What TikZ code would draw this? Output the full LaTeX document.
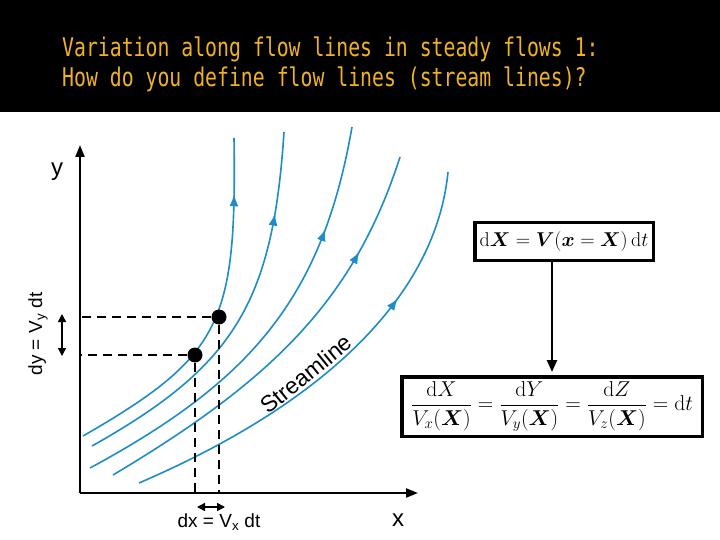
\RequirePackage{fix-cm}
\documentclass[tikz,border=0pt]{standalone}
\usepackage{amsmath,bm}
\usepackage{fontspec}
\setsansfont{Liberation Sans}
\newfontfamily\titlefont{DejaVu Sans Mono}
\usetikzlibrary{arrows.meta,decorations.markings}
\definecolor{titleorange}{RGB}{240,178,36}
\definecolor{sblue}{RGB}{30,140,200}
\tikzset{
  sline/.style={draw=sblue, color=sblue, line width=1.6pt, postaction={decorate},
    decoration={markings, mark=at position #1 with {\arrow{Latex[length=12pt,width=9pt]}}}},
  axisline/.style={line width=2.2pt, -{Triangle[length=12pt,width=9pt]}},
  dline/.style={line width=1.8pt, dash pattern=on 9pt off 6pt},
  dotnode/.style={circle, fill=black, inner sep=0pt, minimum size=15pt},
  eqbox/.style={draw, line width=3.5pt, inner sep=0pt, fill=white},
  lab/.style={font=\sffamily\fontsize{19}{22}\selectfont, inner sep=0pt},
  twoway/.style={line width=1.5pt, {Triangle[length=8pt,width=8pt]}-{Triangle[length=8pt,width=8pt]}},
  titletext/.style={text=titleorange, anchor=base west, inner sep=0pt, font=\titlefont\fontsize{19.8}{22}\selectfont}
}
\begin{document}
\begin{tikzpicture}[x=1pt,y=-1pt]
\useasboundingbox (0,0) rectangle (720,540);
\fill[white] (0,0) rectangle (720,540);
\fill[black] (0,0) rectangle (720,112);
\node[titletext] (t1) at (62,57) {\scalebox{1}[1.3]{Variation along flow lines in steady flows 1:}};
\node[titletext] (t2) at (62,87) {\scalebox{1}[1.3]{How do you define flow lines (stream lines)?}};

% streamlines
\draw[sline=0.845] (83,436) .. controls (222,356) and (236.7,323) .. (234,138);
\draw[sline=0.79] (92,446) .. controls (233.6,366.4) and (272.8,303.6) .. (284,132);
\draw[sline=0.765] (90,468) .. controls (249,382) and (322,300) .. (352,127);
\draw[sline=0.765] (113,475) .. controls (272.75,379.75) and (354,300) .. (400,157);
\draw[sline=0.70] (139,483) .. controls (327.7,401.75) and (436,293.9) .. (448,172);

% axes
\coordinate (O) at (80,493);
\coordinate (ytop) at (80,145);
\coordinate (xend) at (418,493);
\draw[axisline] (O) -- (ytop);
\draw[axisline] (O) -- (xend);
\node[lab, font=\sffamily\fontsize{24}{26}\selectfont] (ylab) at (57,172) {y};
\node[lab, font=\sffamily\fontsize{24}{26}\selectfont] (xlab) at (398,520) {x};

% points and dashed lines
\node[dotnode] (p1) at (219,317) {};
\node[dotnode] (p2) at (195,355) {};
\draw[dline] (p1) -- (p1 -| O);
\draw[dline] (p2) -- (p2 -| O);
\draw[dline] (p1) -- (p1 |- O);
\draw[dline] (p2) -- (p2 |- O);

% increments
\coordinate (dy1) at (62,314);
\coordinate (dy2) at (62,356);
\draw[twoway] (dy1) -- (dy2);
\coordinate (dx1) at (197,507);
\coordinate (dx2) at (225,507);
\draw[twoway] (dx1) -- (dx2);
\node[lab, rotate=90] (dylab) at (38,334) {dy = V\textsubscript{y} dt};
\node[lab] (dxlab) at (219,522) {dx = V\textsubscript{x} dt};
\node[lab, font=\sffamily\fontsize{23}{25}\selectfont, rotate=39] (slab) at (306,374) {Streamline};

% equation boxes
\node[eqbox, minimum width=178.5pt, minimum height=37.5pt] (b1) at (564,241.5)
  {\fontsize{20}{24}\selectfont$\mathrm{d}\bm{X} = \bm{V}(\bm{x}=\bm{X})\,\mathrm{d}t$};
\node[eqbox, minimum width=300.5pt, minimum height=59.5pt] (b2) at (552,406.5)
  {\fontsize{21.5}{25}\selectfont$\dfrac{\mathrm{d}X}{V_x(\bm{X})} = \dfrac{\mathrm{d}Y}{V_y(\bm{X})} = \dfrac{\mathrm{d}Z}{V_z(\bm{X})} = \mathrm{d}t$};
\draw[line width=2.5pt, -{Triangle[length=12pt,width=10pt]}, shorten >=3pt] (b2.north |- b1.south) -- (b2.north);
\end{tikzpicture}
\end{document}
